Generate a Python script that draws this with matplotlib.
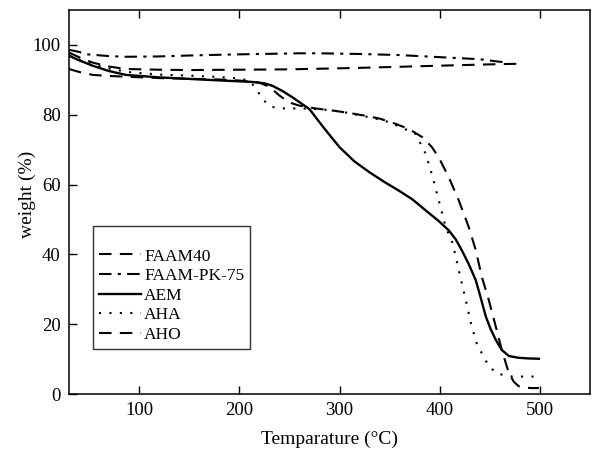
import matplotlib
matplotlib.use('Agg')
import matplotlib.pyplot as plt

plt.rcParams['font.family'] = ['Liberation Serif', 'DejaVu Serif']
plt.rcParams['mathtext.fontset'] = 'stix'

# TGA curves: temperature (C) and weight (%)
faam40_t = [30, 42, 54, 70, 87, 120, 150, 200, 250, 300, 330, 380, 420, 460, 480]
faam40_w = [97.8, 96.2, 94.9, 93.8, 93.1, 92.9, 92.8, 92.9, 93.0, 93.3, 93.5, 93.9, 94.2, 94.5, 94.6]

pk75_t = [30, 40, 48, 70, 87, 120, 154, 200, 260, 280, 320, 359, 400, 440, 459, 466]
pk75_w = [98.6, 98.0, 97.3, 96.8, 96.6, 96.7, 97.0, 97.3, 97.6, 97.6, 97.4, 97.1, 96.5, 95.9, 95.2, 95.0]

aem_t = [30, 40, 54, 70, 87, 120, 154, 190, 213, 225, 233, 243, 253, 262, 270, 285, 300, 315,
         330, 345, 359, 373, 386, 398, 409, 416, 422, 429, 436, 441, 446, 451, 456, 462, 469,
         478, 488, 499]
aem_w = [96.9, 95.6, 94.0, 92.5, 91.4, 90.7, 90.2, 89.7, 89.4, 89.0, 88.3, 86.8, 85.0, 83.2, 81.6,
         76.0, 70.7, 66.6, 63.5, 60.7, 58.3, 55.7, 52.6, 49.8, 46.9, 44.3, 41.2, 37.2, 32.6, 27.5,
         22.2, 18.5, 15.5, 12.6, 10.9, 10.4, 10.2, 10.1]

aha_t = [30, 42, 55, 70, 90, 120, 150, 180, 200, 210, 216, 222, 228, 233, 245, 260, 280, 300,
         326, 345, 360, 376, 386, 393, 399, 406, 413, 419, 426, 432, 437, 442, 448, 456, 464,
         472, 485, 498]
aha_w = [97.0, 95.6, 94.4, 93.2, 92.2, 91.5, 91.2, 90.8, 90.4, 89.7, 87.8, 85.0, 83.0, 82.2, 81.8,
         81.8, 81.6, 81.0, 79.5, 78.3, 76.6, 74.5, 68.8, 62.1, 55.5, 47.8, 43.1, 35.5, 26.9, 19.3,
         14.5, 11.7, 8.5, 6.0, 5.4, 5.0, 5.0, 5.0]

aho_t = [30, 42, 54, 70, 87, 120, 150, 180, 200, 220, 230, 240, 250, 260, 276, 293, 310, 326,
         340, 356, 370, 383, 392, 399, 409, 419, 429, 436, 442, 449, 456, 462, 469, 474, 479,
         486, 492, 499]
aho_w = [93.1, 92.1, 91.4, 91.1, 90.9, 90.5, 90.3, 90.1, 89.8, 89.2, 88.0, 85.5, 83.5, 82.6, 81.8,
         81.2, 80.5, 79.7, 78.9, 77.4, 75.8, 73.5, 70.8, 67.8, 62.1, 55.5, 47.8, 41.2, 33.6, 26.9,
         19.3, 12.6, 6.0, 3.5, 2.2, 1.8, 1.7, 1.7]

fig = plt.figure(figsize=(5.92, 4.61), dpi=100)
ax = fig.add_axes([0.1166, 0.1453, 0.8800, 0.8330])

ax.plot(faam40_t, faam40_w, color='black', lw=1.5, ls=(0, (6, 4)), label='FAAM40')
ax.plot(pk75_t, pk75_w, color='black', lw=1.5, ls=(0, (6, 3, 1.5, 3)), label='FAAM-PK-75')
ax.plot(aem_t, aem_w, color='black', lw=1.7, ls='-', label='AEM')
ax.plot(aha_t, aha_w, color='black', lw=1.5, ls=(0, (1, 4)), label='AHA')
ax.plot(aho_t, aho_w, color='black', lw=1.5, ls=(0, (6, 4)), label='AHO')

ax.set_xlim(30, 550)
ax.set_ylim(0, 110)
ax.set_xticks([100, 200, 300, 400, 500])
ax.set_yticks([0, 20, 40, 60, 80, 100])
ax.tick_params(direction='in', length=6, width=1, labelsize=13.5, pad=6,
               top=True, right=False)
for s in ax.spines.values():
    s.set_linewidth(1.1)

ax.set_xlabel('Temparature (°C)', fontsize=14, labelpad=8)
ax.set_ylabel('weight (%)', fontsize=14)
ax.yaxis.set_label_coords(-0.064, 0.52)

leg = ax.legend(loc='lower left', bbox_to_anchor=(0.046, 0.117), borderaxespad=0,
                title=' ', title_fontsize=11, fontsize=12.5, frameon=True, fancybox=False,
                edgecolor='black', handlelength=2.4, handletextpad=0.2, labelspacing=0.2,
                borderpad=0.35)
leg.get_frame().set_linewidth(1.0)

fig.savefig('out.png', dpi=100)
